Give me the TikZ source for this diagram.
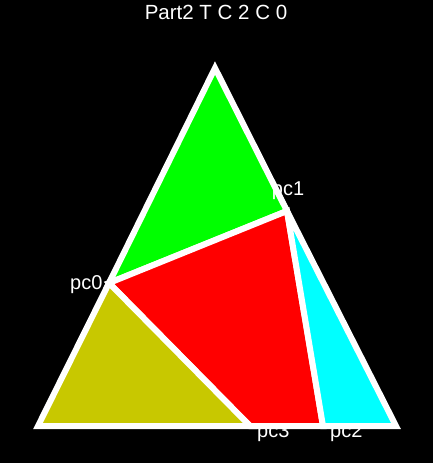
\documentclass[tikz,border=0pt]{standalone}
\usepackage{fontspec}
\setmainfont{Liberation Sans}
\usetikzlibrary{positioning}
\definecolor{partgreen}{RGB}{0,255,0}
\definecolor{partred}{RGB}{255,0,0}
\definecolor{partcyan}{RGB}{0,255,255}
\definecolor{partolive}{RGB}{200,200,0}

\begin{document}
\begin{tikzpicture}[
    x=1pt,y=-1pt,
    part/.style={draw=white,line width=6pt,line join=miter},
    lbl/.style={text=white,inner sep=0pt,font=\fontsize{20}{24}\selectfont},
    ttl/.style={text=white,inner sep=0pt,font=\fontsize{20.5}{24}\selectfont}
  ]
    \fill[black] (0,0) rectangle (433,463);
    \useasboundingbox (0,0) rectangle (433,463);

    % corners of the big triangle and the cut points
    \coordinate (top) at (215,68);
    \coordinate (bl) at (38,426);
    \coordinate (br) at (396,426);
    \coordinate (pc0) at (109,283);
    \coordinate (pc1) at (287,211);
    \coordinate (pc2) at (323,426);
    \coordinate (pc3) at (250,426);

    \filldraw[part,fill=partgreen] (top) -- (pc1) -- (pc0) -- cycle;
    \filldraw[part,fill=partred] (pc0) -- (pc1) -- (pc2) -- (pc3) -- cycle;
    \filldraw[part,fill=partcyan] (pc1) -- (br) -- (pc2) -- cycle;
    \filldraw[part,fill=partolive] (pc0) -- (pc3) -- (bl) -- cycle;

    \node[ttl] (title) at (216,12) {Part2 T C 2 C 0};
    \node[lbl,anchor=west] (lpc0) at (70,285) {pc0};
    \node[lbl] (lpc1) at (288,191) {pc1};
    \node[lbl,anchor=west] (lpc3) at (257,433) {pc3};
    \node[lbl,anchor=west] (lpc2) at (330,433) {pc2};
  \end{tikzpicture}
\end{document}
